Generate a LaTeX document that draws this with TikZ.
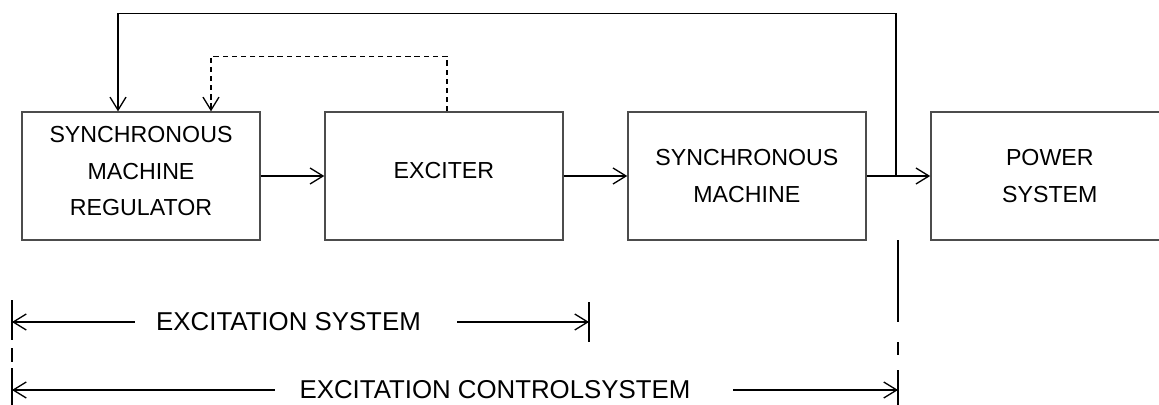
\documentclass[tikz,border=0pt]{standalone}
\usepackage{fontspec}
\setmainfont{Liberation Sans}
\usetikzlibrary{arrows.meta}

\begin{document}
\begin{tikzpicture}[
    x=0.02cm,
    y=-0.02cm,
    node distance=6.06cm,
    >={Straight Barb[length=2.6mm,width=3.2mm]},
    line width=0.75pt,
    block/.style={
        rectangle,
        draw=black!70,
        minimum width=4.76cm,
        minimum height=2.56cm,
        inner sep=0pt,
        align=center,
        font=\fontsize{13.2}{21}\selectfont
    },
    span/.style={
        inner sep=0pt,
        font=\fontsize{14.7}{17}\selectfont
    }
]
    \useasboundingbox (0,0) rectangle (1159,405);

    % Blocks
    \node[block, text depth=0.2cm] (SMR) at (141,176) {SYNCHRONOUS\\MACHINE\\REGULATOR};
    \node[block, text depth=0.24cm] (EX) [right of=SMR] {EXCITER};
    \node[block] (SM) [right of=EX] {SYNCHRONOUS\\MACHINE};
    \node[block] (PS) [right of=SM] {POWER\\SYSTEM};

    % Forward path
    \draw[->] (SMR) -- (EX);
    \draw[->] (EX) -- (SM);
    \draw[->] (SM) -- (PS);

    % Terminal voltage feedback
    \coordinate (tap) at (896,176);
    \coordinate (fbtop) at ([xshift=-0.46cm, yshift=1.96cm]SMR.north);
    \draw[->] (tap) |- (fbtop) -- (fbtop |- SMR.north);

    % Exciter feedback (dashed)
    \draw[->, dash pattern=on 3pt off 2.2pt]
        ([xshift=0.06cm]EX.north) -- ++(0,-55) -| ([xshift=1.4cm]SMR.north);

    % Extent of the excitation system
    \coordinate (exL) at (12,322);
    \coordinate (exR) at (589,322);
    \node[span] (exlab) at (288.5,322) {EXCITATION SYSTEM};
    \draw[->] ([xshift=-0.42cm]exlab.west) -- (exL);
    \draw[->] ([xshift=0.72cm]exlab.east) -- (exR);
    \draw (589,302) -- (589,342);

    % Extent of the excitation control system
    \coordinate (ctL) at (12,390);
    \coordinate (ctR) at (898,390);
    \node[span] (ctlab) at (495,390) {EXCITATION CONTROLSYSTEM};
    \draw[->] ([xshift=-0.48cm]ctlab.west) -- (ctL);
    \draw[->] ([xshift=0.84cm]ctlab.east) -- (ctR);

    % Boundary lines
    \draw (12,300) -- (12,340) (12,348) -- (12,362) (12,368) -- (12,410);
    \draw (898,240) -- (898,322) (898,342) -- (898,355) (898,370) -- (898,410);

\end{tikzpicture}
\end{document}
